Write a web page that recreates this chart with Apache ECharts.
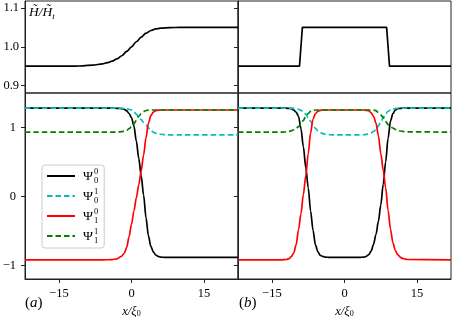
<!DOCTYPE html>
<html><head><meta charset="utf-8">
<script src="https://cdn.jsdelivr.net/npm/echarts@6/dist/echarts.min.js"></script>
<style>html,body{margin:0;padding:0;background:#fff}#c{width:452px;height:317px}</style>
</head><body><div id="c"></div>
<script>
// ---- data ----
const xTicks = [-15, 0, 15];
const yTopTicks = [0.9, 1.0, 1.1];
const yBotTicks = [-1, 0, 1];

// panel (a): tanh-like step of H
const xHA = [-22,-12,-10,-8,-6,-5,-4,-3,-2,-1,0,1,2,3,4,5,6,8,10,22];
const hA  = [0.95,0.95,0.951,0.953,0.956,0.959,0.963,0.969,0.977,0.988,1.0,1.013,1.025,1.035,1.042,1.046,1.048,1.0495,1.05,1.05];
// panel (b): rectangular pulse of H
const xHB = [-22,-9.3,-8.7,8.7,9.3,22];
const hB  = [0.95,0.95,1.05,1.05,0.95,0.95];

// panel (a) wavefunctions
const xA = [-22,-6,-4,-3,-2,-1.5,-1,-0.5,0,0.5,1,1.5,2,2.5,3,3.5,4,4.5,5,5.5,6,7,8,10,22];
const psi00A = [1.276,1.276,1.276,1.275,1.27,1.26,1.24,1.20,1.14,1.02,0.80,0.55,0.30,0.02,-0.31,-0.57,-0.72,-0.80,-0.845,-0.865,-0.875,-0.88,-0.88,-0.88,-0.88];
const psi01A = [1.276,1.276,1.276,1.276,1.275,1.272,1.268,1.26,1.25,1.225,1.19,1.15,1.11,1.07,1.03,0.99,0.955,0.93,0.915,0.905,0.90,0.893,0.89,0.89,0.89];
const psi10A = [-0.915,-0.915,-0.912,-0.90,-0.86,-0.82,-0.74,-0.58,-0.40,-0.21,-0.02,0.17,0.37,0.60,0.85,1.06,1.17,1.22,1.24,1.248,1.25,1.25,1.25,1.25,1.25];
const psi11A = [0.93,0.93,0.93,0.932,0.937,0.945,0.957,0.98,1.01,1.05,1.10,1.16,1.20,1.23,1.243,1.248,1.25,1.25,1.25,1.25,1.25,1.25,1.25,1.25,1.25];

// panel (b) wavefunctions
const xB = [-22,-13,-12,-11.5,-11,-10.5,-10,-9.5,-9,-8.5,-8,-7.5,-7,-6.5,-6,-5.5,-5,-4.5,-4,-3,-2,0,2,3,4,4.5,5,5.5,6,6.5,7,7.5,8,8.5,9,9.5,10,10.5,11,11.5,12,13,22];
const psi00B = [1.276,1.276,1.276,1.274,1.27,1.25,1.22,1.16,0.98,0.72,0.42,0.13,-0.21,-0.49,-0.70,-0.80,-0.85,-0.865,-0.875,-0.88,-0.88,-0.88,-0.88,-0.88,-0.875,-0.865,-0.84,-0.79,-0.69,-0.55,-0.36,-0.12,0.18,0.50,0.84,1.09,1.20,1.25,1.27,1.274,1.276,1.276,1.276];
const psi01B = [1.276,1.276,1.276,1.276,1.276,1.274,1.27,1.26,1.245,1.225,1.19,1.14,1.09,1.03,0.985,0.95,0.925,0.91,0.90,0.893,0.89,0.89,0.89,0.89,0.893,0.898,0.905,0.92,0.94,0.965,1.02,1.08,1.14,1.195,1.23,1.25,1.265,1.272,1.275,1.276,1.276,1.276,1.276];
const psi10B = [-0.915,-0.915,-0.91,-0.90,-0.87,-0.82,-0.70,-0.48,-0.25,0.03,0.30,0.62,0.92,1.12,1.20,1.23,1.245,1.25,1.25,1.25,1.25,1.25,1.25,1.25,1.25,1.245,1.24,1.21,1.16,1.06,0.88,0.62,0.38,0.13,-0.20,-0.47,-0.67,-0.78,-0.84,-0.875,-0.895,-0.91,-0.915];
const psi11B = [0.93,0.93,0.935,0.94,0.95,0.965,0.985,1.01,1.05,1.10,1.16,1.20,1.23,1.24,1.25,1.25,1.25,1.25,1.25,1.25,1.25,1.25,1.25,1.25,1.25,1.25,1.25,1.25,1.25,1.24,1.215,1.18,1.14,1.085,1.04,1.01,0.99,0.97,0.955,0.947,0.94,0.935,0.93];

const names = ['Ψ00', 'Ψ01', 'Ψ10', 'Ψ11'];
const subs = ['0', '0', '1', '1'];
const sups = ['0', '1', '0', '1'];
// ---------------------------------------

const FONT = 'Liberation Serif';
const pair = (xs, ys) => xs.map((x, i) => [x, ys[i]]);
const fmtX = v => (v < 0 ? '\u2212' + Math.abs(v) : String(v));

const gridBase = {show: true, borderColor: '#222', borderWidth: 1, backgroundColor: 'transparent',
  containLabel: false, outerBoundsMode: 'none'};
const grids = [
  {left: 25, top: 1, width: 213, height: 92},
  {left: 238, top: 1, width: 213, height: 92},
  {left: 25, top: 93, width: 213, height: 186},
  {left: 238, top: 93, width: 213, height: 186}
].map(g => Object.assign({}, gridBase, g));

const axisTxt = {color: '#000', fontFamily: FONT, fontSize: 12.5};
const xAxes = grids.map((g, i) => {
  const bottom = i >= 2;
  return {
    type: 'value', gridIndex: i, min: -22, max: 22,
    splitLine: {show: false},
    axisLine: {show: bottom, onZero: false, lineStyle: {color: '#222', width: 1}},
    axisTick: {show: bottom, customValues: xTicks, length: 4, lineStyle: {color: '#222'}},
    axisLabel: Object.assign({show: bottom, customValues: xTicks, formatter: fmtX, margin: 8}, axisTxt),
    name: bottom ? '{i|x/ξ}{s|0}' : '',
    nameLocation: 'middle', nameGap: 25,
    nameTextStyle: {rich: {
      i: {fontFamily: FONT, fontStyle: 'italic', fontSize: 12.5, color: '#000', lineHeight: 14},
      s: {fontFamily: FONT, fontSize: 8, color: '#000', verticalAlign: 'bottom', lineHeight: 9}
    }}
  };
});
const yAxes = grids.map((g, i) => {
  const top = i < 2;
  const ticks = top ? yTopTicks : yBotTicks;
  return {
    type: 'value', gridIndex: i,
    min: top ? 0.881 : -1.192, max: top ? 1.118 : 1.496,
    splitLine: {show: false},
    axisLine: {show: true, onZero: false, lineStyle: {color: '#222', width: 1}},
    axisTick: {show: true, customValues: ticks, length: 4, lineStyle: {color: '#222'}},
    axisLabel: Object.assign({show: i % 2 === 0, customValues: ticks, margin: top ? 6 : 9,
      formatter: v => top ? v.toFixed(1) : fmtX(v)}, axisTxt)
  };
});

const colors = ['#000000', '#00bfbf', '#ff0000', '#008000'];
const dashes = ['solid', [5.5, 3], 'solid', [5.5, 3]];
const psiA = [psi00A, psi01A, psi10A, psi11A];
const psiB = [psi00B, psi01B, psi10B, psi11B];

const series = [
  {type: 'line', name: 'HA', xAxisIndex: 0, yAxisIndex: 0, data: pair(xHA, hA), showSymbol: false, symbol: 'none',
   smooth: 0.3, smoothMonotone: 'x', lineStyle: {color: '#000', width: 1.7}},
  {type: 'line', name: 'HB', xAxisIndex: 1, yAxisIndex: 1, data: pair(xHB, hB), showSymbol: false, symbol: 'none',
   lineStyle: {color: '#000', width: 1.7}}
];
[[2, xA, psiA], [3, xB, psiB]].forEach(([gi, xs, arr]) => {
  arr.forEach((ys, k) => {
    series.push({
      type: 'line', name: names[k], xAxisIndex: gi, yAxisIndex: gi,
      data: pair(xs, ys), showSymbol: false, symbol: 'none',
      smooth: 0.3, smoothMonotone: 'x',
      color: colors[k],
      itemStyle: {color: colors[k]},
      lineStyle: {color: colors[k], width: 1.7, type: dashes[k]}
    });
  });
});

const chart = echarts.init(document.getElementById('c'), null, {renderer: 'canvas'});
chart.setOption({
  animation: false,
  backgroundColor: '#fff',
  grid: grids, xAxis: xAxes, yAxis: yAxes, series,
  legend: {
    data: names, orient: 'vertical', left: 42, top: 165,
    itemWidth: 28, itemHeight: 14, itemGap: 2,
    padding: [2, 6, 3, 4],
    itemStyle: {opacity: 0, borderWidth: 0},
    backgroundColor: 'rgba(255,255,255,0.8)', borderColor: '#cccccc', borderWidth: 1, borderRadius: 3,
    formatter: name => {
      const k = names.indexOf(name);
      return '{p|Ψ}{u|' + sups[k] + '}{d|' + subs[k] + '}';
    },
    textStyle: {rich: {
      p: {fontFamily: FONT, fontSize: 13.5, color: '#000', lineHeight: 18, padding: [0, 1, 0, 3]},
      u: {fontFamily: FONT, fontSize: 8.5, color: '#000', lineHeight: 9, verticalAlign: 'top', width: 0.01},
      d: {fontFamily: FONT, fontSize: 8.5, color: '#000', lineHeight: 9, verticalAlign: 'bottom'}
    }}
  },
  graphic: [
    {type: 'text', left: 29, top: 5, style: {
      text: '{i|H̃/H̃}{s|t}',
      rich: {
        i: {fontFamily: FONT, fontStyle: 'italic', fontSize: 13.5, fill: '#000', lineHeight: 18},
        s: {fontFamily: FONT, fontStyle: 'italic', fontSize: 9, fill: '#000', lineHeight: 10, verticalAlign: 'bottom'}
      }}},
    {type: 'text', left: 25, top: 296, style: {
      text: '{n|(}{i|a}{n|)}',
      rich: {
        n: {fontFamily: FONT, fontSize: 15, fill: '#000'},
        i: {fontFamily: FONT, fontStyle: 'italic', fontSize: 15, fill: '#000'}
      }}},
    {type: 'text', left: 239, top: 296, style: {
      text: '{n|(}{i|b}{n|)}',
      rich: {
        n: {fontFamily: FONT, fontSize: 15, fill: '#000'},
        i: {fontFamily: FONT, fontStyle: 'italic', fontSize: 15, fill: '#000'}
      }}}
  ]
});
</script>
</body></html>
